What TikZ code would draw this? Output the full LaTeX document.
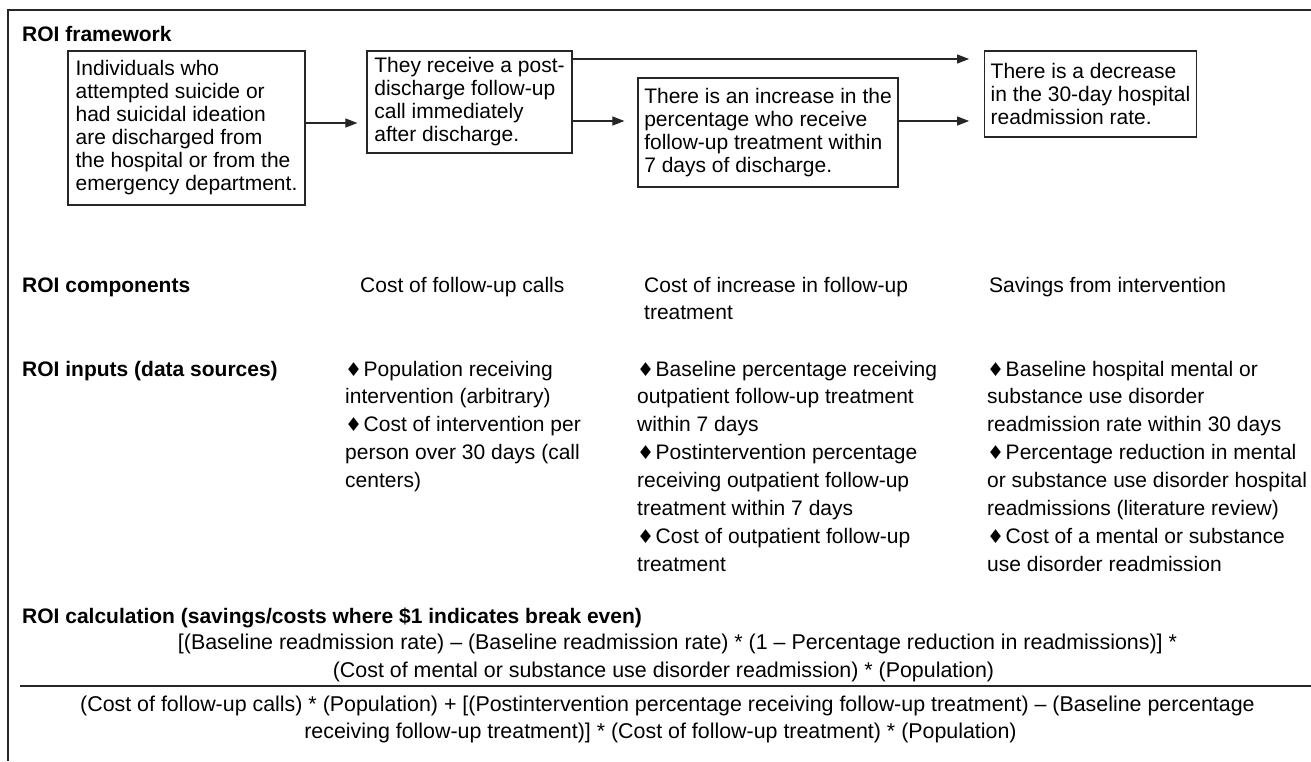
\documentclass[tikz,border=0pt]{standalone}
\usepackage{fontspec}
\setmainfont{Liberation Sans}
\newfontfamily\dvfont{DejaVu Sans}
\usetikzlibrary{arrows.meta}
\newcommand\myboxfont{\fontsize{21}{23}\selectfont}
\newcommand\mytxt{\fontsize{21}{27.9}\selectfont}
\newcommand\myeq{\fontsize{21.4}{27.9}\selectfont}
\newcommand\mylbl{\fontsize{21}{25}\selectfont\bfseries}
\newcommand\mydia{{\dvfont\fontsize{19}{19}\selectfont\char"2666}\kern1.5pt}
\begin{document}
\begin{tikzpicture}[x=1pt,y=-1pt,
  frame/.style={line width=1.4pt, draw=black!85},
  box/.style={draw=black!85, line width=1.2pt, align=left, inner xsep=6pt, inner ysep=0pt, font=\myboxfont},
  arr/.style={draw=black!85, line width=1.1pt, -{Triangle[length=12pt,width=9pt]}},
  lbl/.style={anchor=base west, inner sep=0pt, font=\mylbl},
  txt/.style={anchor=base west, inner sep=0pt, align=left, font=\mytxt},
  eq/.style={anchor=base, inner sep=0pt, font=\myeq},
]
\useasboundingbox (0,0) rectangle (1311,761);
% outer frame
\draw[frame] (1311,10) -- (8,10) -- (8,761);

% framework
\node[lbl] (lfw) at (22,41) {ROI framework};
\node[box, minimum width=237pt, minimum height=154pt] (b1) at (186.5,128)
  {Individuals who\\attempted suicide or\\had suicidal ideation\\are discharged from\\the hospital or from the\\emergency department.};
\node[box, minimum width=205pt, minimum height=102pt] (b2) at (469.5,102)
  {They receive a post-\\discharge follow-up\\call immediately\\after discharge.};
\node[box, minimum width=260pt, minimum height=109pt] (b3) at (768,132.5)
  {There is an increase in the\\percentage who receive\\follow-up treatment within\\7 days of discharge.};
\node[box, minimum width=211pt, minimum height=86pt] (b4) at (1090.5,94)
  {There is a decrease\\in the 30-day hospital\\readmission rate.};

\draw[arr, shorten >=9pt] (b1.east |- 0,123) -- (b2.west |- 0,123);
\draw[arr, shorten >=13pt] (b2.east |- 0,121) -- (b3.west |- 0,121);
\draw[arr, shorten >=15pt] (b3.east |- 0,121) -- (b4.west |- 0,121);
\draw[arr, shorten >=15pt] (b2.east |- 0,59) -- (b4.west |- 0,59);

% components (multi-line nodes: base = last line)
\node[lbl] (lco) at (22,292) {ROI components};
\node[txt] (c2) at (360,292) {Cost of follow-up calls};
\node[txt] (c3) at (644,319.9) {Cost of increase in follow-up\\treatment};
\node[txt] (c4) at (989,292) {Savings from intervention};

% inputs
\node[lbl] (lin) at (22,376) {ROI inputs (data sources)};
\node[txt] (i2) at (345,487.6) {\mydia Population receiving\\intervention (arbitrary)\\\mydia Cost of intervention per\\person over 30 days (call\\centers)};
\node[txt] (i3) at (637,571.3) {\mydia Baseline percentage receiving\\outpatient follow-up treatment\\within 7 days\\\mydia Postintervention percentage\\receiving outpatient follow-up\\treatment within 7 days\\\mydia Cost of outpatient follow-up\\treatment};
\node[txt] (i4) at (987,571.3) {\mydia Baseline hospital mental or\\substance use disorder\\readmission rate within 30 days\\\mydia Percentage reduction in mental\\or substance use disorder hospital\\readmissions (literature review)\\\mydia Cost of a mental or substance\\use disorder readmission};

% calculation
\node[lbl] (lca) at (22,623) {ROI calculation (savings/costs where \$1 indicates break even)};
\node[eq] (n1) at (677.5,649) {[(Baseline readmission rate) – (Baseline readmission rate) * (1 – Percentage reduction in readmissions)] *};
\node[eq] (n2) at (663.5,677) {(Cost of mental or substance use disorder readmission) * (Population)};
\draw[frame, line width=1.2pt] (20,686) -- (1311,686);
\node[eq] (d1) at (667.5,711) {(Cost of follow-up calls) * (Population) + [(Postintervention percentage receiving follow-up treatment) – (Baseline percentage};
\node[eq] (d2) at (660.5,738) {receiving follow-up treatment)] * (Cost of follow-up treatment) * (Population)};
\end{tikzpicture}
\end{document}
